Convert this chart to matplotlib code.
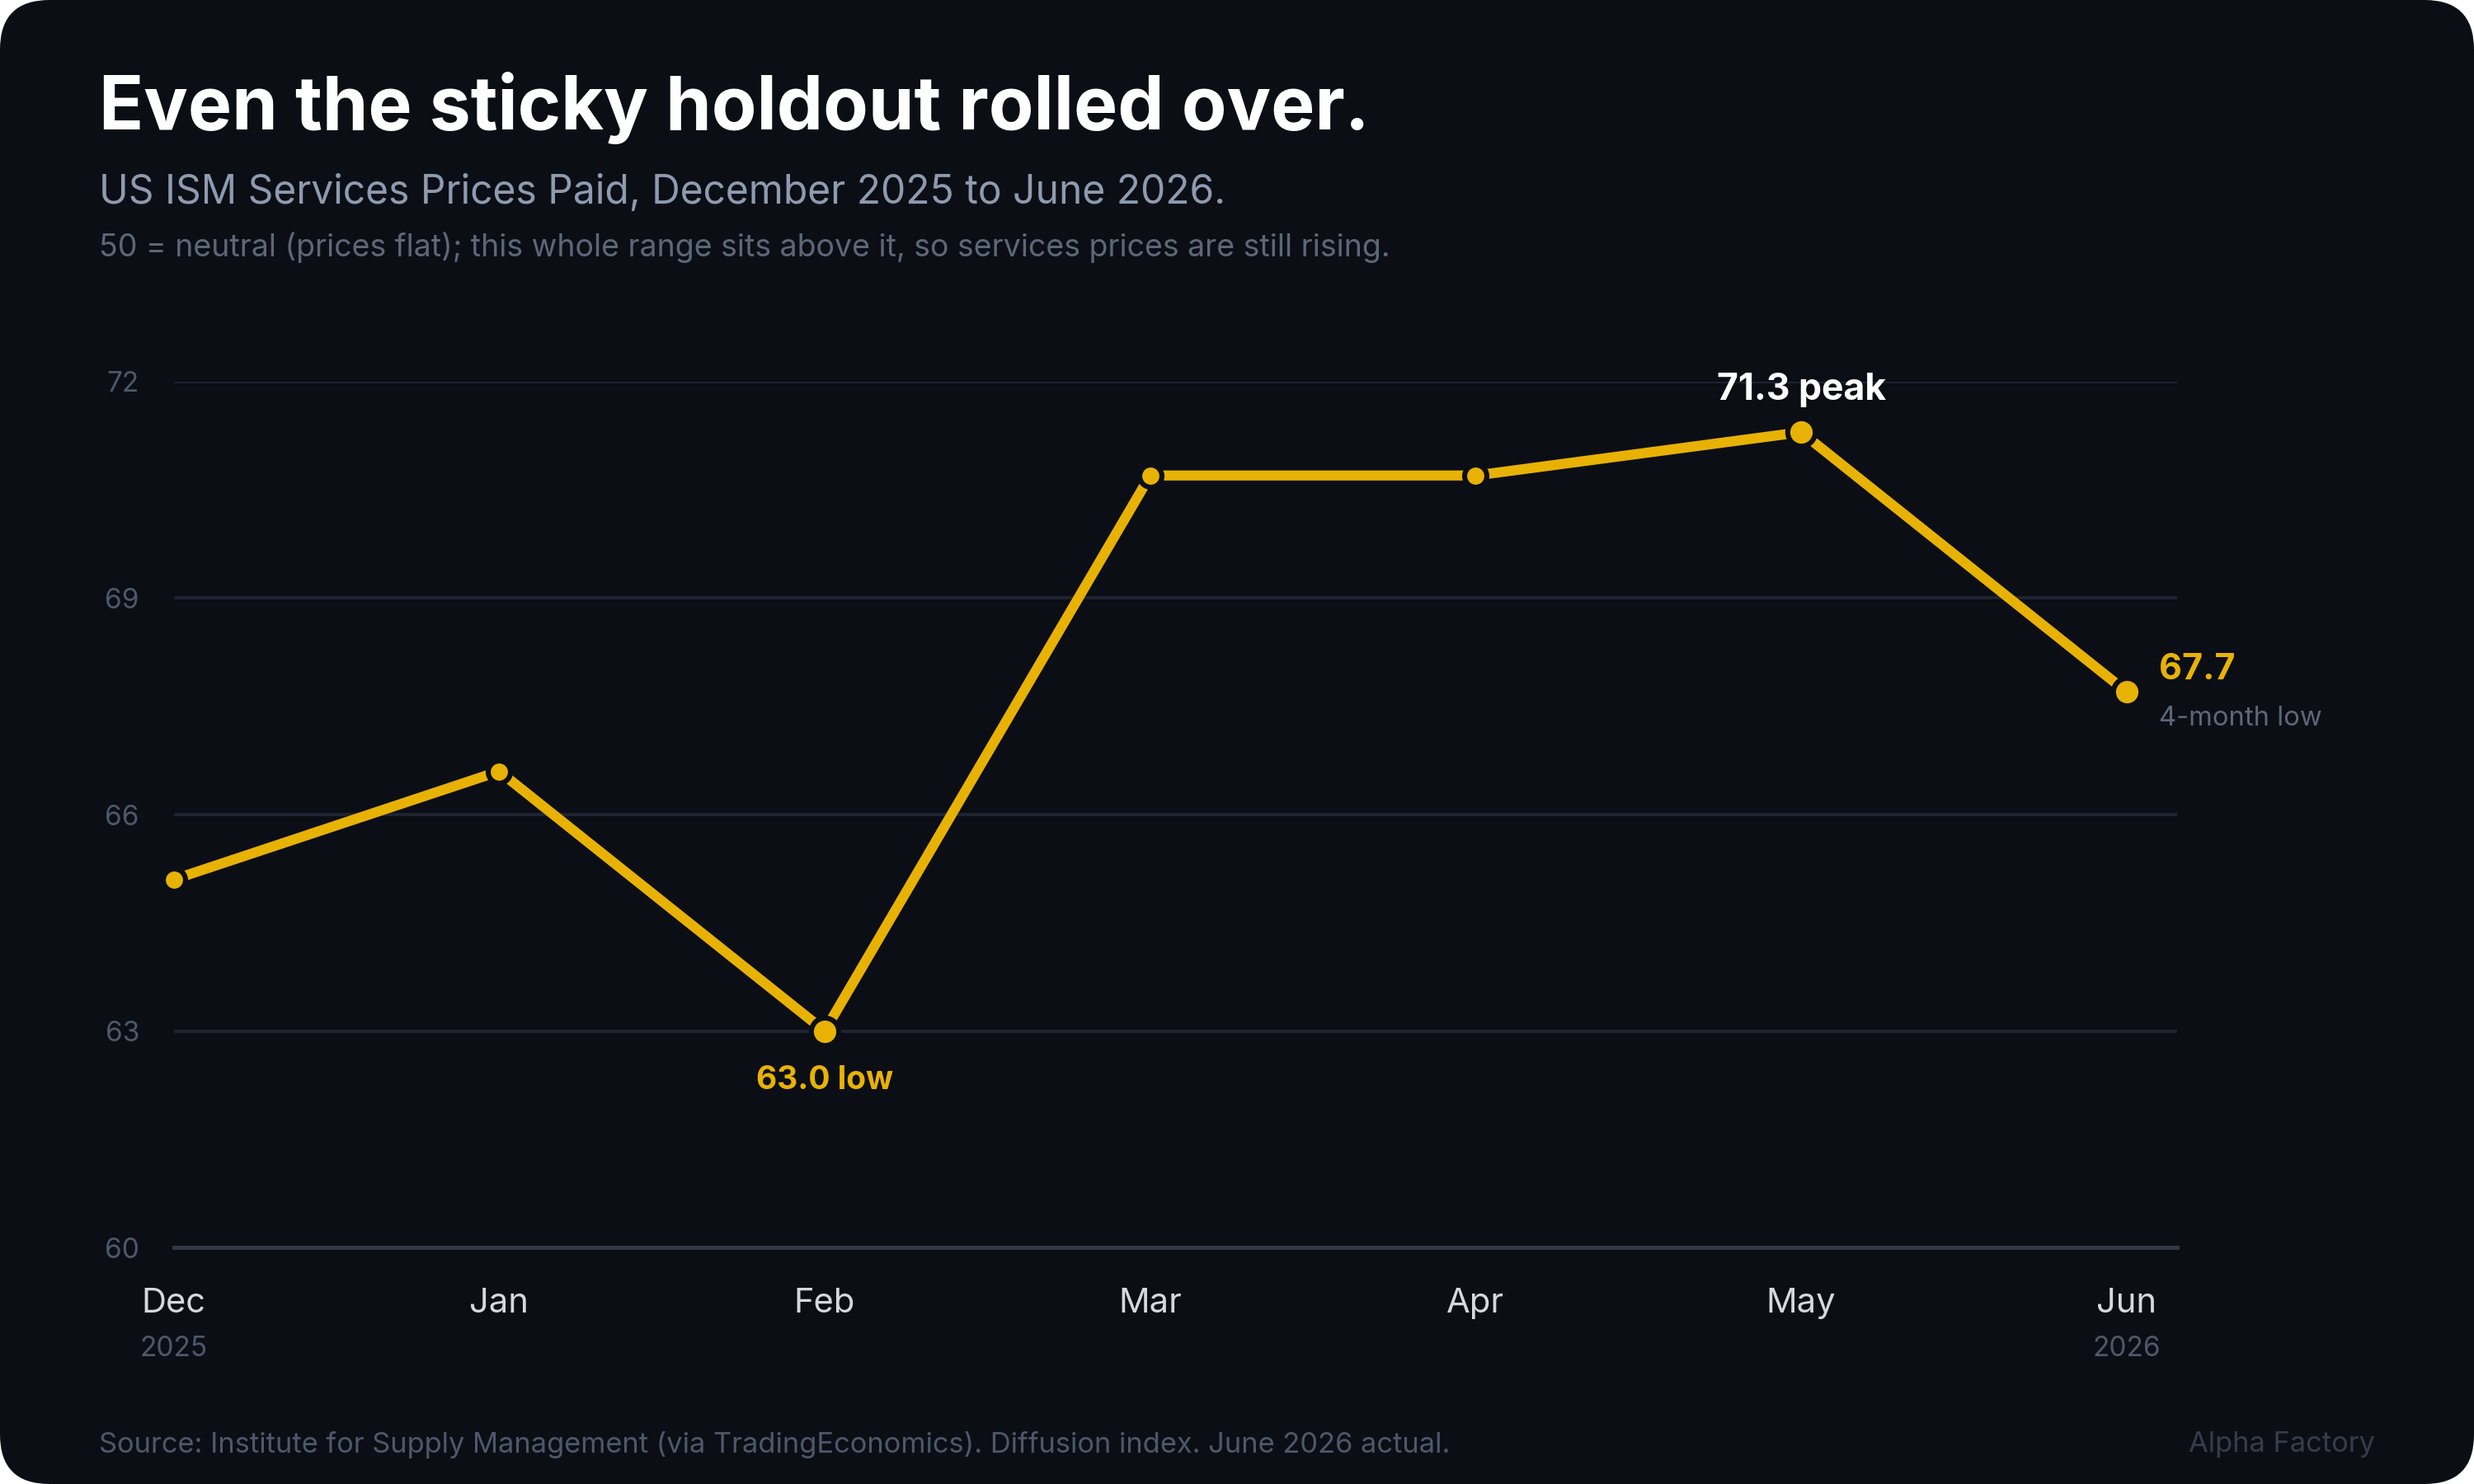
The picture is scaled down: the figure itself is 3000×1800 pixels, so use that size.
import matplotlib
matplotlib.use("Agg")
import matplotlib.pyplot as plt
from matplotlib.patches import FancyBboxPatch
import matplotlib.transforms as mtransforms

months = ["Dec", "Jan", "Feb", "Mar", "Apr", "May", "Jun"]
years = ["2025", "", "", "", "", "", "2026"]
prices_paid = [65.1, 66.6, 63.0, 70.7, 70.7, 71.3, 67.7]
big_points = [2, 5, 6]  # low, peak, latest
yticks = [60, 63, 66, 69, 72]

BG = "#0b0e14"
GOLD = "#e8b204"
GRID = "#1e2432"
AXIS = "#2f3848"
MUTED = "#4d586b"

plt.rcParams['font.family'] = ['Inter', 'DejaVu Sans']

fig = plt.figure(figsize=(15, 9), dpi=200)
fig.patch.set_facecolor("white")
card = FancyBboxPatch((0, 0), 15, 9, boxstyle="round,pad=0,rounding_size=0.3",
                      transform=fig.dpi_scale_trans, facecolor=BG, edgecolor="none", zorder=-10)
fig.patches.append(card)

ax = fig.add_axes([0.0702, 0.1594, 0.8098, 0.5834])
ax.set_facecolor("none")
x = list(range(len(months)))

ax.plot(x, prices_paid, color=GOLD, lw=4.4, solid_capstyle="round", zorder=3)
small = [i for i in x if i not in big_points]
ax.plot(small, [prices_paid[i] for i in small], "o", ms=9.7, mfc=GOLD, mec=BG, mew=2.2,
        zorder=4, clip_on=False)
ax.plot(big_points, [prices_paid[i] for i in big_points], "o", ms=12, mfc=GOLD, mec=BG, mew=2.2,
        zorder=4, clip_on=False)

ax.set_xlim(0, 6.155)
ax.set_ylim(60, 72)
ax.set_yticks(yticks)
ax.yaxis.grid(True, color=GRID, lw=1.4)
ax.set_axisbelow(True)
for s in ["top", "right", "left"]:
    ax.spines[s].set_visible(False)
ax.spines["bottom"].set_color(AXIS)
ax.spines["bottom"].set_linewidth(1.8)
ax.tick_params(axis="y", length=0, pad=15, labelsize=12, labelcolor=MUTED)
ax.set_xticks(x, months)
ax.tick_params(axis="x", length=0, pad=17.5, labelsize=15, labelcolor="#d4d9e1")

trans = mtransforms.blended_transform_factory(ax.transData, ax.transAxes)
for i, yr in enumerate(years):
    if yr:
        ax.text(i, -0.117, yr, transform=trans, ha="center", va="center",
                fontsize=12, color=MUTED)

# annotations
lo, pk, last = big_points
ax.annotate(f"{prices_paid[lo]:.1f} low", (lo, prices_paid[lo]), xytext=(0, -21.5),
            textcoords="offset points", ha="center", va="center",
            fontsize=14, fontweight="bold", color=GOLD)
ax.annotate(f"{prices_paid[pk]:.1f} peak", (pk, prices_paid[pk]), xytext=(0, 18.5),
            textcoords="offset points", ha="center", va="center",
            fontsize=16, fontweight="bold", color="white")
ax.annotate(f"{prices_paid[last]:.1f}", (last, prices_paid[last]), xytext=(14, 9.5),
            textcoords="offset points", ha="left", va="center",
            fontsize=15.5, fontweight="bold", color=GOLD, annotation_clip=False)
ax.annotate("4-month low", (last, prices_paid[last]), xytext=(14, -11.5),
            textcoords="offset points", ha="left", va="center",
            fontsize=11.8, color="#5c6779", annotation_clip=False)

fig.text(0.04, 0.913, "Even the sticky holdout rolled over.", fontsize=32.2,
         fontweight="bold", color="white", ha="left", va="baseline")
fig.text(0.04, 0.863, "US ISM Services Prices Paid, December 2025 to June 2026.",
         fontsize=17.25, color="#8d9bb0", ha="left", va="baseline")
fig.text(0.04, 0.827, "50 = neutral (prices flat); this whole range sits above it, so services prices are still rising.",
         fontsize=13.5, color="#5c6779", ha="left", va="baseline")
fig.text(0.04, 0.0266, "Source: Institute for Supply Management (via TradingEconomics). Diffusion index. June 2026 actual.",
         fontsize=12.4, color=MUTED, ha="left", va="center")
fig.text(0.96, 0.0266, "Alpha Factory", fontsize=12.4, color="#353d4b", ha="right", va="center")

fig.savefig("out.png", dpi=200, facecolor=fig.get_facecolor())
